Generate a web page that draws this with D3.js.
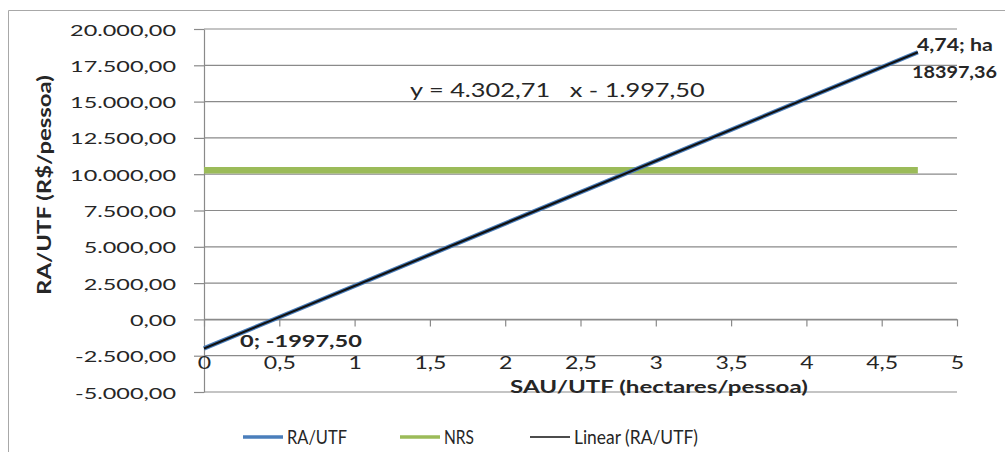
<!DOCTYPE html>
<html><head><meta charset="utf-8">
<script src="https://cdn.jsdelivr.net/npm/d3@7"></script>
<style>
body{margin:0;background:#fff}
text{font-family:Lato,"Open Sans",sans-serif}
</style>
</head><body>
<svg id="c" width="1005" height="452"></svg>
<script>
// ---- data ----
const xTicks = [0,0.5,1,1.5,2,2.5,3,3.5,4,4.5,5];
const xTickLabels = ["0","0,5","1","1,5","2","2,5","3","3,5","4","4,5","5"];
const yTicks = [-5000,-2500,0,2500,5000,7500,10000,12500,15000,17500,20000];
const yTickLabels = ["-5.000,00","-2.500,00","0,00","2.500,00","5.000,00","7.500,00","10.000,00","12.500,00","15.000,00","17.500,00","20.000,00"];
const raX = [0, 4.74];
const raY = [-1997.5, 18397.36];
const nrsX = [0, 4.74];
const nrsY = [10275, 10275];
const trendX = [0, 4.74];
const trendY = [-1997.5, 18397.36];
const seriesNames = ["RA/UTF","NRS","Linear (RA/UTF)"];
const equationText = "y = 4.302,71   x - 1.997,50";
const startLabel = "0; -1997,50";
const endLabel = ["4,74; ha","18397,36"];
const xTitle = "SAU/UTF (hectares/pessoa)";
const yTitle = "RA/UTF (R$/pessoa)";

// ---- drawing ----
const svg = d3.select("#c");
const gridColor = "#8a8a8a";
const txt = "#262626";

function stretchTo(sel, target){
  const w = sel.node().getComputedTextLength();
  return target / w;
}

svg.append("path").attr("d","M8.5,452V10.5H1005").attr("fill","none").attr("stroke","#a8a8a8").attr("stroke-width",1);

const x = d3.scaleLinear().domain([0,5]).range([204,957]);
const y = d3.scaleLinear().domain([-5000,20000]).range([392,29]);

// gridlines
svg.append("g").selectAll("line").data(yTicks).join("line")
  .attr("x1",x(0)).attr("x2",x(5))
  .attr("y1",d=>y(d)).attr("y2",d=>y(d))
  .attr("stroke",gridColor).attr("stroke-width",1.2);

// y axis
const gy = svg.append("g").attr("transform",`translate(${x(0)},0)`)
  .call(d3.axisLeft(y).tickValues(yTicks).tickFormat((d,i)=>yTickLabels[i]).tickSize(10).tickSizeOuter(0));
gy.selectAll("path,line").attr("stroke",gridColor).attr("stroke-width",1.2);
gy.selectAll("text").attr("fill",txt).attr("font-size",16).attr("x",0).attr("dy",null).attr("y",0);
let sy = stretchTo(gy.selectAll("text").filter((d,i)=>i===yTicks.length-1), 106);
gy.selectAll("text").attr("transform",`translate(-28,6) scale(${sy},1)`);

// x axis at y=0
const gx = svg.append("g").attr("transform",`translate(0,${y(0)})`)
  .call(d3.axisBottom(x).tickValues(xTicks).tickFormat((d,i)=>xTickLabels[i]).tickSize(7).tickSizeOuter(0));
gx.selectAll("path,line").attr("stroke",gridColor).attr("stroke-width",1.2);
gx.selectAll("text").attr("fill",txt).attr("font-size",18).attr("y",0).attr("dy",null);
let sx = stretchTo(gx.selectAll("text").filter((d,i)=>i===1), 32);
gx.selectAll("text").attr("transform",`translate(0,${369-y(0)}) scale(${sx},1)`);

// series
const line = d3.line().x(d=>x(d[0])).y(d=>y(d[1]));
svg.append("path").attr("d",line(nrsX.map((v,i)=>[v,nrsY[i]])))
  .attr("stroke","#9bbb59").attr("stroke-width",6.5).attr("fill","none");
svg.append("path").attr("d",line(raX.map((v,i)=>[v,raY[i]])))
  .attr("stroke","#4a7ebb").attr("stroke-width",4.5).attr("fill","none");
svg.append("path").attr("d",line(trendX.map((v,i)=>[v,trendY[i]])))
  .attr("stroke","#111").attr("stroke-width",2.2).attr("fill","none");

// helper for stretched text
function label(str, ax, by, size, weight, anchor, target, rot){
  const t = svg.append("text").text(str).attr("font-size",size).attr("font-weight",weight)
    .attr("fill",txt).attr("text-anchor",anchor).style("white-space","pre");
  const s = stretchTo(t, target);
  t.attr("transform",`translate(${ax},${by})${rot?` rotate(${rot})`:""} scale(${s},1)`);
  return t;
}

label(equationText, 410, 97, 19, 400, "start", 295);
label(startLabel, 240, 347, 17, 700, "start", 122);
label(endLabel[0], 917, 51, 17, 700, "start", 76);
label(endLabel[1], 912, 78, 17, 700, "start", 85);
label(xTitle, 510, 393, 17, 700, "start", 298);
label(yTitle, 51, 185, 18, 700, "middle", 220, -90);

// legend
const legColors = ["#4a7ebb","#9bbb59","#111"];
const legWidths = [3.5,3.5,1.5];
const legX = [243,400,530];
const legTextW = [60,30,124];
seriesNames.forEach((n,i)=>{
  svg.append("line").attr("x1",legX[i]).attr("x2",legX[i]+40).attr("y1",437).attr("y2",437)
    .attr("stroke",legColors[i]).attr("stroke-width",legWidths[i]);
  label(n, legX[i]+44, 444, 19, 400, "start", legTextW[i]);
});
</script>
</body></html>
